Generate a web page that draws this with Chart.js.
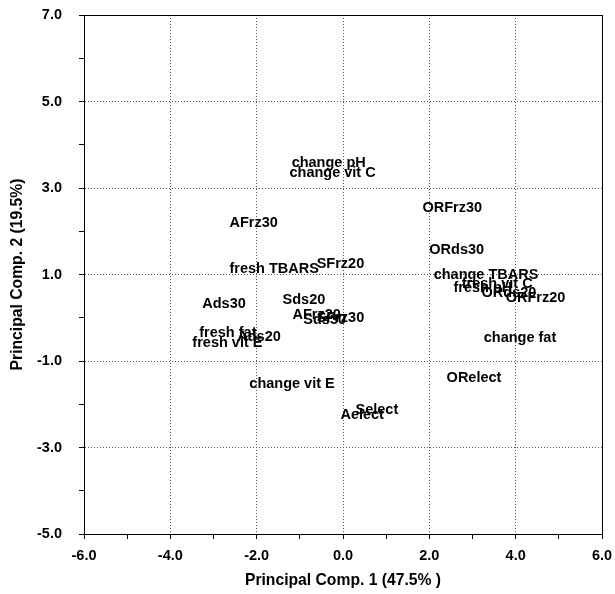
<!DOCTYPE html>
<html>
<head>
<meta charset="utf-8">
<script src="https://cdn.jsdelivr.net/npm/chart.js@4/dist/chart.umd.min.js"></script>
<style>
  html, body { margin: 0; padding: 0; background: #ffffff; }
  #wrap { width: 615px; height: 594px; }
</style>
</head>
<body>
<div id="wrap"><canvas id="c" width="615" height="594"></canvas></div>
<script>
// ---- data (PCA scores / loadings) ----
const labels = [
  'change pH', 'change vit C', 'AFrz30', 'fresh TBARS', 'SFrz20',
  'Ads30', 'Sds20', 'AFrz20', 'Sds30', 'SFrz30',
  'fresh fat', 'fresh vit E', 'Ads20', 'ORFrz30', 'ORds30',
  'change TBARS', 'fresh vit C', 'fresh pH', 'ORds20', 'ORFrz20',
  'change fat', 'ORelect', 'change vit E', 'Aelect', 'Select'
];
const pc1 = [
  -1.19, -1.24, -2.63, -2.63, -0.61,
  -3.26, -1.40, -1.17, -0.92, -0.61,
  -3.33, -3.49, -2.45, 1.84, 2.00,
  2.10, 2.75, 2.56, 3.21, 3.77,
  3.26, 2.40, -2.17, -0.06, 0.29
];
const pc2 = [
  3.57, 3.34, 2.18, 1.12, 1.24,
  0.31, 0.40, 0.06, -0.06, -0.01,
  -0.36, -0.59, -0.45, 2.53, 1.56,
  1.00, 0.77, 0.68, 0.57, 0.45,
  -0.47, -1.40, -1.54, -2.25, -2.14
];
const xTickLabels = [-6, -4, -2, 0, 2, 4, 6];
const yTickLabels = [-5, -3, -1, 1, 3, 5, 7];
const xTitle = 'Principal Comp. 1 (47.5% )';
const yTitle = 'Principal Comp. 2 (19.5%)';

const FONT = "'Liberation Sans', Arial, Helvetica, sans-serif";

const points = pc1.map((x, i) => ({ x: x, y: pc2[i] }));

const textLabels = {
  id: 'textLabels',
  afterDatasetsDraw(chart) {
    const ctx = chart.ctx;
    const meta = chart.getDatasetMeta(0);
    ctx.save();
    ctx.font = "bold 14.5px " + FONT;
    ctx.fillStyle = '#000';
    ctx.textAlign = 'left';
    ctx.textBaseline = 'middle';
    meta.data.forEach((el, i) => {
      ctx.fillText(labels[i], el.x, el.y);
    });
    ctx.restore();
  }
};

const frame = {
  id: 'frame',
  afterDraw(chart) {
    const a = chart.chartArea;
    const ctx = chart.ctx;
    ctx.save();
    ctx.strokeStyle = '#000';
    ctx.lineWidth = 1;
    ctx.strokeRect(Math.round(a.left) + 0.5, Math.round(a.top) + 0.5,
                   Math.round(a.right - a.left), Math.round(a.bottom - a.top));
    ctx.restore();
  }
};

new Chart(document.getElementById('c'), {
  type: 'scatter',
  data: {
    datasets: [{
      data: points,
      pointRadius: 0,
      pointHoverRadius: 0,
      showLine: false
    }]
  },
  options: {
    responsive: false,
    animation: false,
    devicePixelRatio: 1,
    layout: { padding: { left: 4, right: 13, top: 15, bottom: 4 } },
    plugins: {
      legend: { display: false },
      tooltip: { enabled: false }
    },
    scales: {
      x: {
        type: 'linear',
        min: -6, max: 6,
        afterFit(scale) {
          scale.height = 56;
          scale.paddingLeft = 0;
          scale.paddingRight = 0;
        },
        ticks: {
          stepSize: 1,
          autoSkip: false,
          maxRotation: 0,
          padding: 8,
          color: '#000',
          font: { family: FONT, size: 14.5, weight: 'bold' },
          callback: v => xTickLabels.includes(v) ? v.toFixed(1) : ''
        },
        grid: {
          color: c => (c.tick && xTickLabels.includes(c.tick.value)) ? '#555' : 'rgba(0,0,0,0)',
          tickColor: '#000',
          tickLength: 5,
          lineWidth: 1
        },
        border: { display: true, color: '#000', width: 1, dash: [1, 2] },
        title: {
          display: true,
          text: xTitle,
          color: '#000',
          padding: { top: 0, bottom: 0 },
          font: { family: FONT, size: 15.7, weight: 'bold' }
        }
      },
      y: {
        type: 'linear',
        min: -5, max: 7,
        afterFit(scale) {
          scale.width = 80;
          scale.paddingTop = 0;
          scale.paddingBottom = 0;
        },
        ticks: {
          stepSize: 1,
          autoSkip: false,
          padding: 17,
          color: '#000',
          font: { family: FONT, size: 14.5, weight: 'bold' },
          callback: v => yTickLabels.includes(v) ? v.toFixed(1) : ''
        },
        grid: {
          color: c => (c.tick && yTickLabels.includes(c.tick.value)) ? '#555' : 'rgba(0,0,0,0)',
          tickColor: '#000',
          tickLength: 5,
          lineWidth: 1
        },
        border: { display: true, color: '#000', width: 1, dash: [1, 2] },
        title: {
          display: true,
          text: yTitle,
          color: '#000',
          padding: { top: 4, bottom: 0 },
          font: { family: FONT, size: 15.7, weight: 'bold' }
        }
      }
    }
  },
  plugins: [textLabels, frame]
});
</script>
</body>
</html>
